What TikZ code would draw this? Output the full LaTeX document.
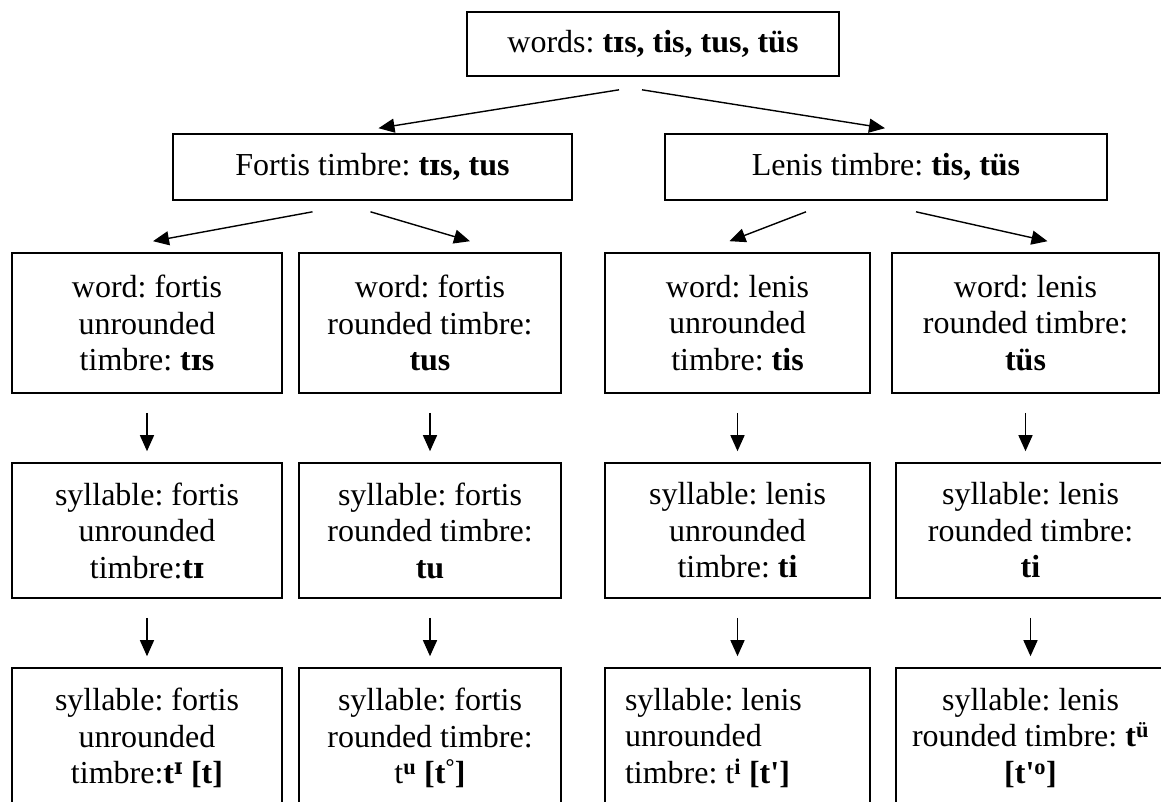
\documentclass[tikz,border=0pt]{standalone}
\usepackage{fontspec}
\setmainfont{Liberation Serif}
\newfontfamily\ipafont{DejaVu Serif}
\newcommand{\smI}{{\ipafont\bfseries\fontsize{29}{35}\selectfont ɪ}}
\newcommand{\smIsup}{{\ipafont\bfseries ɪ}}
\newcommand{\fixsp}{\spaceskip=8pt\relax}
\usetikzlibrary{arrows.meta,calc}
\begin{document}
\frenchspacing
\begin{tikzpicture}[x=1pt,y=-1pt,
  box/.style={draw, line width=1.6pt, align=center, inner sep=0pt,
    font=\fontsize{32}{36.5}\selectfont\frenchspacing},
  arr/.style={line width=1.4pt, -{Triangle[length=16pt,width=14pt]}}]
\clip (0,0) rectangle (1161,801);
\fill[white] (0,0) rectangle (1161,801);

\node[box, minimum width=372pt, minimum height=64pt] (top) at (653,44) {words: \textbf{t\smI s, tis, tus, tüs}};
\node[box, minimum width=399pt, minimum height=66pt] (fort) at (372.5,167) {Fortis timbre: \textbf{t\smI s, tus}};
\node[box, minimum width=442pt, minimum height=66pt] (len) at (886,167) {Lenis timbre: \textbf{tis, tüs}};

\node[box, minimum width=270pt, minimum height=140pt] (w1) at (147,323) {word: fortis\\unrounded\\timbre: \textbf{t\smI s}};
\node[box, minimum width=262pt, minimum height=140pt] (w2) at (430,323) {word: fortis\\rounded timbre:\\\textbf{tus}};
\node[box, minimum width=265pt, minimum height=140pt] (w3) at (737.5,323) {word: lenis\\unrounded\\timbre: \textbf{tis}};
\node[box, minimum width=267pt, minimum height=140pt] (w4) at (1025.5,323) {word: lenis\\rounded timbre:\\\textbf{tüs}};

\node[box, minimum width=270pt, minimum height=135pt] (s1) at (147,530.5) {syllable: fortis\\unrounded\\timbre:\textbf{t\smI}};
\node[box, minimum width=262pt, minimum height=135pt] (s2) at (430,530.5) {syllable: fortis\\rounded timbre:\\\textbf{tu}};
\node[box, minimum width=265pt, minimum height=135pt] (s3) at (737.5,530.5) {syllable: lenis\\unrounded\\timbre: \textbf{ti}};
\node[box, minimum width=269pt, minimum height=135pt] (s4) at (1030.5,530.5) {syllable: lenis\\rounded timbre:\\\textbf{ti}};

\node[box, minimum width=270pt, minimum height=140pt] (p1) at (147,738) {syllable: fortis\\unrounded\\timbre:\textbf{t\textsuperscript{\smIsup} [t]}};
\node[box, minimum width=262pt, minimum height=140pt] (p2) at (430,738) {syllable: fortis\\rounded timbre:\\t\textsuperscript{\textbf{u}} \textbf{[t\textsuperscript{°}]}};
\node[box, minimum width=265pt, minimum height=140pt, text width=225pt, inner xsep=20pt, align=left] (p3) at (737.5,738) {\fixsp syllable: lenis\\unrounded\\timbre: t\textsuperscript{\textbf{i}} \textbf{[t\textquotesingle]}};
\node[box, minimum width=269pt, minimum height=140pt] (p4) at (1030.5,738) {syllable: lenis\\rounded timbre: \textbf{t\textsuperscript{ü}}\\\textbf{[t\textquotesingle\textsuperscript{o}]}};

\draw[arr] ($(top.south)+(-34,13)$) -- ($(fort.north)+(6,-5)$);
\draw[arr] ($(top.south)+(-11,13)$) -- ($(len.north)+(-1,-5)$);
\draw[arr] ($(fort.south)+(-60,11)$) -- ($(w1.north)+(6,-11)$);
\draw[arr] ($(fort.south)+(-2,11)$) -- ($(w2.north)+(40,-11)$);
\draw[arr] ($(len.south)+(-80,11)$) -- ($(w3.north)+(-8,-11)$);
\draw[arr] ($(len.south)+(30,11)$) -- ($(w4.north)+(22,-11)$);

\foreach \a/\b in {w1/s1,w2/s2,w3/s3,w4/s4,s1/p1,s2/p2,s3/p3,s4/p4}{
  \draw[arr] ($(\a.south)+(0,19)$) -- ($(\a.south |- \b.north)+(0,-11)$);
}
\end{tikzpicture}
\end{document}
